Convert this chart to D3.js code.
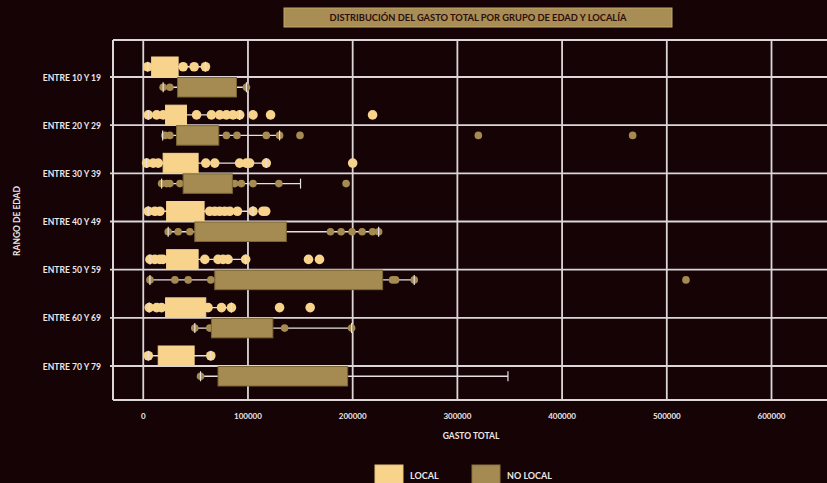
<!DOCTYPE html>
<html><head><meta charset="utf-8">
<script src="https://cdn.jsdelivr.net/npm/d3@7"></script>
<style>
html,body{margin:0;padding:0;background:#150306;}
svg{display:block;}
text{font-family:Lato,"Open Sans",sans-serif;font-weight:700;}
</style></head>
<body>
<script>
const categories = ["ENTRE 10 Y 19","ENTRE 20 Y 29","ENTRE 30 Y 39","ENTRE 40 Y 49","ENTRE 50 Y 59","ENTRE 60 Y 69","ENTRE 70 Y 79"];
const groups = ["LOCAL","NO LOCAL"];
const xTicks = [0,100000,200000,300000,400000,500000,600000];

// LOCAL
const localQ1   = [8000, 21300, 19000, 22300, 22300, 21300, 14300];
const localQ3   = [33300, 41300, 52400, 58100, 52400, 59700, 48600];
const localLow  = [4200, 4800, 3200, 4800, 6400, 5700, 4800];
const localHigh = [59400, 92100, 117500, 104800, 97800, 84200, 64500];
const localPoints = [
  [4200, 38100, 48600, 59400],
  [4800, 12800, 19000, 50900, 65100, 73000, 79400, 85700, 92100, 104800, 121600, 219000],
  [3200, 9500, 14300, 59700, 68300, 92000, 98500, 101600, 117500, 200000],
  [4800, 11100, 15900, 63500, 68300, 73000, 77800, 82600, 89900, 104800, 114300, 116900],
  [6400, 11100, 15900, 18800, 58800, 71400, 76200, 81000, 97800, 157800, 168300],
  [5700, 12800, 17500, 61900, 74700, 84200, 130200, 159400],
  [4800, 64500]
];

// NO LOCAL
const nolocalQ1   = [32800, 31800, 38100, 49200, 68300, 65100, 71400];
const nolocalQ3   = [89000, 72100, 85100, 136600, 228600, 123800, 195200];
const nolocalLow  = [19000, 18500, 17500, 23800, 6400, 49200, 54700];
const nolocalHigh = [98500, 130200, 150200, 224800, 258800, 199000, 348300];
const nolocalPoints = [
  [19000, 25400, 98500],
  [20700, 25400, 79400, 89500, 117500, 130200, 149700, 320000, 467400],
  [17500, 22300, 25400, 35000, 87300, 93700, 104800, 129500, 193700],
  [23800, 33300, 44500, 178800, 189000, 199400, 209000, 219000, 224800],
  [6400, 30200, 42900, 64500, 238100, 241000, 258800, 518300],
  [49200, 63500, 135000, 199000],
  [54700]
];

const W = 827, H = 483;
const colors = {"LOCAL":"#f7d38b","NO LOCAL":"#a58b51"};
const strokes = {"LOCAL":"#f7d38b","NO LOCAL":"#7a6535"};
const radius = {"LOCAL":4.8,"NO LOCAL":3.8};
const grid = "#dcd6d6";

const svg = d3.select("body").append("svg").attr("width",W).attr("height",H);
svg.append("rect").attr("width",W).attr("height",H).attr("fill","#150306");

const x = d3.scaleLinear().domain([-28900, 653000]).range([113, 827]);
const y = d3.scalePoint().domain(categories).range([77, 366]);
const sub = d3.scaleBand().domain(groups).range([-20, 20]).paddingInner(0.05);

const plotTop = 40, plotBottom = 400, plotLeft = 113;

// gridlines
const g = svg.append("g");
g.selectAll("line.v").data(xTicks).join("line")
  .attr("x1",d=>x(d)).attr("x2",d=>x(d)).attr("y1",plotTop).attr("y2",plotBottom)
  .attr("stroke",grid).attr("stroke-width",1.8);
g.selectAll("line.h").data(categories).join("line")
  .attr("x1",plotLeft-3).attr("x2",W).attr("y1",d=>y(d)).attr("y2",d=>y(d))
  .attr("stroke",grid).attr("stroke-width",1.8);
g.append("line").attr("x1",plotLeft).attr("x2",W).attr("y1",plotTop).attr("y2",plotTop).attr("stroke",grid).attr("stroke-width",1.8);
g.append("line").attr("x1",plotLeft).attr("x2",W).attr("y1",plotBottom).attr("y2",plotBottom).attr("stroke",grid).attr("stroke-width",2);
g.append("line").attr("x1",plotLeft).attr("x2",plotLeft).attr("y1",plotTop).attr("y2",plotBottom).attr("stroke",grid).attr("stroke-width",2);

// build box data
const boxes = [];
categories.forEach((c,i)=>{
  boxes.push({cat:c,grp:"LOCAL",q1:localQ1[i],q3:localQ3[i],lo:localLow[i],hi:localHigh[i],pts:localPoints[i]});
  boxes.push({cat:c,grp:"NO LOCAL",q1:nolocalQ1[i],q3:nolocalQ3[i],lo:nolocalLow[i],hi:nolocalHigh[i],pts:nolocalPoints[i]});
});
const cy = d => y(d.cat) + sub(d.grp) + sub.bandwidth()/2;

const bg = svg.append("g");
// whiskers
bg.selectAll("line.w").data(boxes).join("line")
  .attr("x1",d=>x(d.lo)).attr("x2",d=>x(d.hi)).attr("y1",cy).attr("y2",cy)
  .attr("stroke","#e6e0e0").attr("stroke-width",1.4);
// points
boxes.forEach(d=>{
  bg.append("g").selectAll("circle").data(d.pts).join("circle")
    .attr("cx",v=>x(v)).attr("cy",cy(d)).attr("r",radius[d.grp])
    .attr("fill",colors[d.grp]);
});
// caps
["lo","hi"].forEach(k=>{
  bg.append("g").selectAll("line").data(boxes).join("line")
    .attr("x1",d=>x(d[k])).attr("x2",d=>x(d[k]))
    .attr("y1",d=>cy(d)-5).attr("y2",d=>cy(d)+5)
    .attr("stroke","#e6e0e0").attr("stroke-width",1.2);
});
// boxes
bg.append("g").selectAll("rect").data(boxes).join("rect")
  .attr("x",d=>x(d.q1)).attr("width",d=>x(d.q3)-x(d.q1))
  .attr("y",d=>y(d.cat)+sub(d.grp)).attr("height",sub.bandwidth())
  .attr("fill",d=>colors[d.grp]).attr("stroke",d=>strokes[d.grp]).attr("stroke-width",1);

// category labels
svg.append("g").selectAll("text").data(categories).join("text")
  .attr("x",101).attr("y",d=>y(d)+3.5).attr("text-anchor","end")
  .attr("font-size",8.6).attr("fill","#ece6e6").text(d=>d);

// x tick labels
svg.append("g").selectAll("text").data(xTicks).join("text")
  .attr("x",d=>x(d)).attr("y",419).attr("text-anchor","middle")
  .attr("font-size",8).attr("fill","#ece6e6").text(d=>d);

// axis titles
svg.append("text").attr("x",471).attr("y",439).attr("text-anchor","middle")
  .attr("font-size",8.5).attr("fill","#ece6e6").text("GASTO TOTAL");
svg.append("text").attr("transform","translate(20,221) rotate(-90)").attr("text-anchor","middle")
  .attr("font-size",8.5).attr("fill","#ece6e6").text("RANGO DE EDAD");

// title
svg.append("rect").attr("x",284).attr("y",8).attr("width",388).attr("height",19)
  .attr("fill","#a88d55").attr("stroke","#c2a86c").attr("stroke-width",1);
svg.append("text").attr("x",478).attr("y",20.7).attr("text-anchor","middle")
  .attr("font-size",9.3).attr("fill","#2e0c0c").text("DISTRIBUCIÓN DEL GASTO TOTAL POR GRUPO DE EDAD Y LOCALÍA");

// legend
const leg = svg.append("g").selectAll("g").data(groups).join("g")
  .attr("transform",(d,i)=>`translate(${375+i*97},465)`);
leg.append("rect").attr("width",28).attr("height",19)
  .attr("fill",d=>colors[d]).attr("stroke",d=>d==="LOCAL"?"#e8c47a":"#8a743f").attr("stroke-width",1);
leg.append("text").attr("x",35).attr("y",14).attr("font-size",9).attr("fill","#ece6e6").text(d=>d);
</script>
</body></html>
